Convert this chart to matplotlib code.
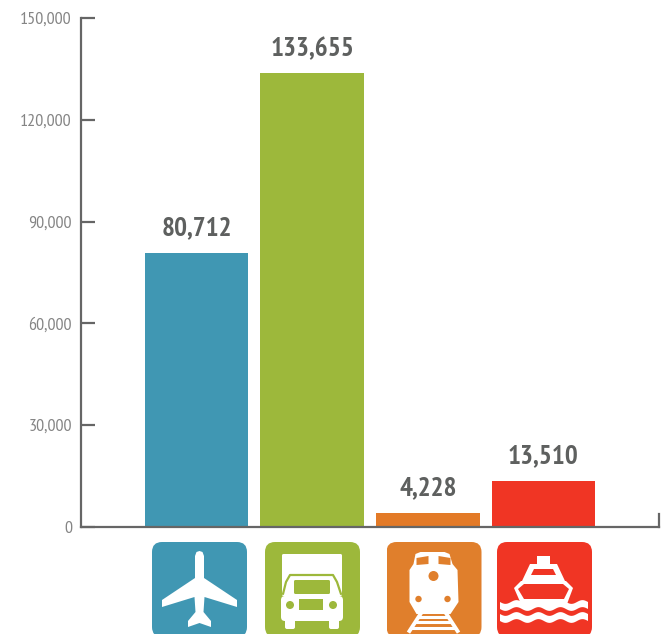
import numpy as np
import matplotlib
matplotlib.use('Agg')
from matplotlib import pyplot as plt
from matplotlib.patches import Circle, FancyBboxPatch, Polygon, Rectangle

W, H = 667, 634

modes = ['Air', 'Truck', 'Rail', 'Ferry']
values = [80712, 133655, 4228, 13510]
colors = ['#4097b3', '#9db83b', '#e37a27', '#f03524']
icon_colors = ['#4097b3', '#9db83b', '#e07f2c', '#f03524']
y_ticks = [0, 30000, 60000, 90000, 120000, 150000]

WHITE = 'white'
AXIS = '#666666'


def box(ax, x, y, w, h, color, pad=1.5, z=3):
    ax.add_patch(FancyBboxPatch((x + pad, y + pad), w - 2 * pad, h - 2 * pad,
                                boxstyle='round,pad=%f,rounding_size=%f' % (pad, pad),
                                fc=color, ec='none', zorder=z))


def plane(ax, bg):
    half = [(47.5, 9), (50.5, 10), (52, 14), (52, 36), (85, 58), (85, 65), (52.5, 55),
            (51.5, 70), (59, 79), (59, 85), (47.5, 81)]
    mirror = [(95 - x, y) for x, y in reversed(half[1:-1])]
    ax.add_patch(Polygon(half + mirror, fc=WHITE, ec='none', zorder=4))


def truck(ax, bg):
    box(ax, 17, 12, 60, 42, WHITE, z=4)
    ax.plot([18, 21, 25, 68, 72, 76], [52, 40, 33, 33, 40, 52], color=bg, lw=1.6,
            solid_capstyle='round', zorder=5)
    box(ax, 29, 38, 36, 14, bg, z=5)
    box(ax, 16, 54, 62, 25, WHITE, pad=4, z=4)
    box(ax, 20, 72, 10, 15, WHITE, pad=2, z=4)
    box(ax, 64, 72, 10, 15, WHITE, pad=2, z=4)
    ax.add_patch(Circle((25, 63), 4, fc=bg, ec='none', zorder=5))
    ax.add_patch(Circle((68, 63), 4, fc=bg, ec='none', zorder=5))
    ax.add_patch(Rectangle((34, 57), 24, 11, fc=bg, ec='none', zorder=5))


def train(ax, bg):
    body = [(29, 12), (34, 10), (58, 10), (63, 12), (66, 22), (71, 28), (72, 60),
            (64, 72), (30, 72), (23, 60), (23, 28), (27, 22)]
    ax.add_patch(Polygon(body, fc=WHITE, ec='none', zorder=4))
    ax.add_patch(Polygon([(30, 16), (42, 14), (42, 22), (30, 23)], fc=bg, ec='none', zorder=5))
    ax.add_patch(Polygon([(52, 14), (64, 16), (64, 23), (52, 22)], fc=bg, ec='none', zorder=5))
    ax.add_patch(Circle((47, 34), 5, fc=bg, ec='none', zorder=5))
    ax.add_patch(Circle((32, 57), 3.2, fc=bg, ec='none', zorder=5))
    ax.add_patch(Circle((61, 57), 3.2, fc=bg, ec='none', zorder=5))
    ax.plot([34, 23], [72, 89], color=WHITE, lw=2.8, zorder=4)
    ax.plot([60, 71], [72, 89], color=WHITE, lw=2.8, zorder=4)
    for y, a, b in [(75, 33, 61), (80, 30, 64), (86, 26, 68)]:
        ax.plot([a, b], [y, y], color=WHITE, lw=2.2, zorder=4)


def ferry(ax, bg):
    ax.add_patch(Polygon([(40, 22), (40, 14), (53, 14), (53, 22)], fc=WHITE, ec='none', zorder=4))
    ax.add_patch(Polygon([(33, 22), (60, 22), (68, 39), (25, 39)], fc=WHITE, ec='none', zorder=4))
    ax.add_patch(Polygon([(37, 27), (56, 27), (59, 33), (34, 33)], fc=bg, ec='none', zorder=5))
    ax.add_patch(Polygon([(24, 39), (69, 39), (76, 46), (70, 62), (24, 62), (17, 46)],
                         fc=WHITE, ec='none', zorder=4))
    ax.add_patch(Polygon([(27, 42), (66, 42), (72, 47), (67, 57), (27, 57), (21, 47)],
                         fc=bg, ec='none', zorder=5))
    # two wavy bands across the lower part of the tile
    xs = np.linspace(3, 91, 60)
    for top in [60, 72]:
        wave = 1.9 * np.sin((xs - 3) * 2 * np.pi / 22)
        pts = list(zip(xs, top + wave)) + list(zip(xs[::-1], top + 7 + wave[::-1]))
        ax.add_patch(Polygon(pts, fc=WHITE, ec='none', zorder=6))


def draw_icons(fig):
    lefts = [152, 265, 386.5, 497]
    painters = [plane, truck, train, ferry]
    for left, color, paint in zip(lefts, icon_colors, painters):
        sub = fig.add_axes([left / W, (H - 542 - 95) / H, 95 / W, 95 / H])
        sub.set_xlim(0, 95)
        sub.set_ylim(95, 0)
        sub.axis('off')
        box(sub, 0, 0, 95, 95, color, pad=10, z=3)
        paint(sub, color)


fig = plt.figure(figsize=(W / 100, H / 100), dpi=100)
ax = fig.add_axes([81 / W, (H - 527) / H, 578 / W, 509 / H])

x = np.arange(len(values))
bars = ax.bar(x, values, width=0.895, color=colors, zorder=1)

ax.set_xlim(-1, 4)
ax.set_ylim(0, 150000)

narrow = ['PT Sans Narrow', 'Roboto Condensed', 'Liberation Sans', 'DejaVu Sans']
for bar, v in zip(bars, values):
    ax.annotate(format(v, ','), (bar.get_x() + bar.get_width() / 2, v),
                xytext=(0, 9), textcoords='offset points', ha='center', va='bottom',
                fontsize=19.5, fontweight='bold', color='#5e605f', family=narrow)

ax.set_xticks([])
ax.set_yticks(y_ticks)
ax.set_yticklabels([format(t, ',') for t in y_ticks], family=narrow, fontsize=13, color='#858585')
ax.tick_params(axis='y', direction='in', length=10, width=1.6, color=AXIS, pad=6.5)

ax.spines['top'].set_visible(False)
for side in ['left', 'bottom', 'right']:
    ax.spines[side].set_color(AXIS)
    ax.spines[side].set_linewidth(1.6)
ax.spines['right'].set_bounds(0, 3800)

draw_icons(fig)

fig.savefig('out.png', dpi=100, facecolor='white')
